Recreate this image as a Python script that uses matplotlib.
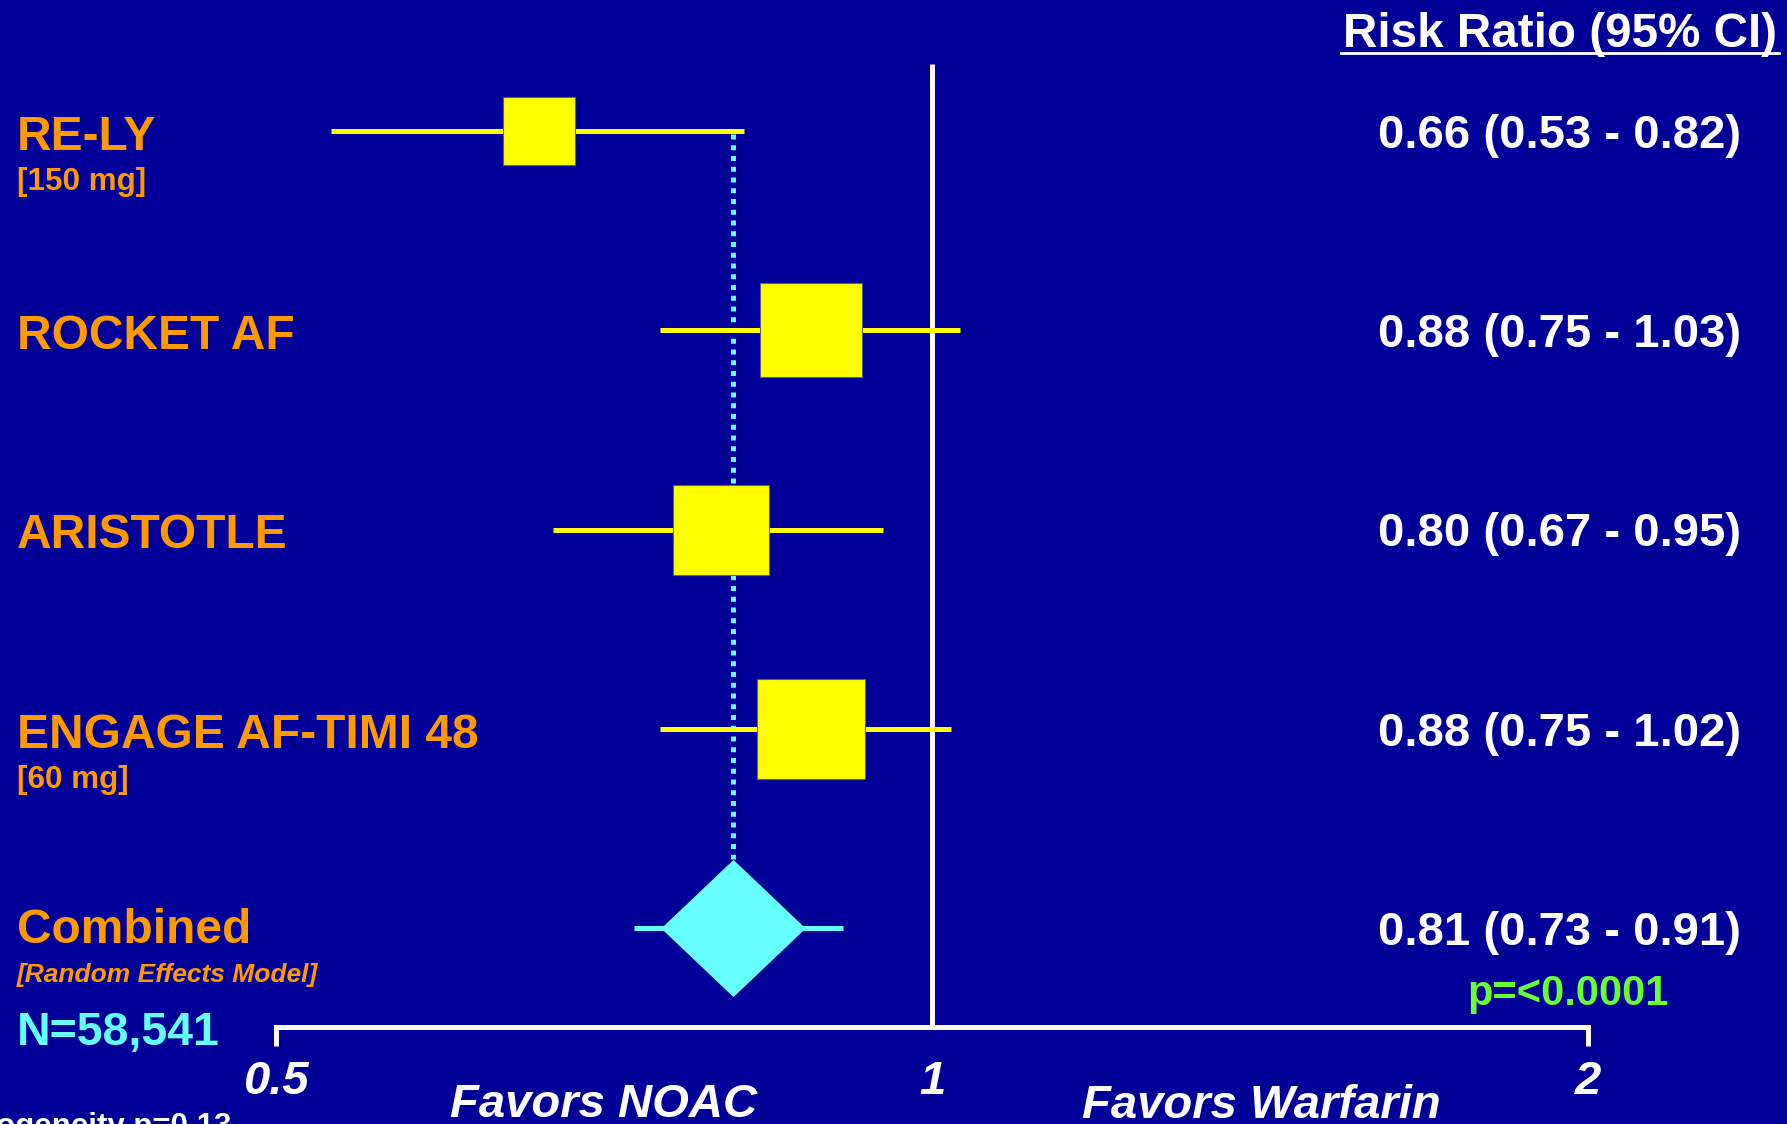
import matplotlib
matplotlib.use("Agg")
import matplotlib.pyplot as plt
from matplotlib.transforms import blended_transform_factory
from matplotlib.lines import Line2D

# ---- data ----
studies = ["RE-LY", "ROCKET AF", "ARISTOTLE", "ENGAGE AF-TIMI 48"]
doses = ["[150 mg]", "", "", "[60 mg]"]
rr = [0.66, 0.88, 0.80, 0.88]
ci_low = [0.53, 0.75, 0.67, 0.75]
ci_high = [0.82, 1.03, 0.95, 1.02]
box_sizes = [52.5, 73.5, 69.0, 77.5]          # marker width in points (study weight)

pooled_label = "Combined"
pooled_model = "[Random Effects Model]"
pooled_rr = 0.81
pooled_low = 0.73
pooled_high = 0.91
p_text = "p=<0.0001"
n_text = "N=58,541"
het_text = "Heterogeneity p=0.13"

ticks = [0.5, 1, 2]
tick_labels = ["0.5", "1", "2"]
favors_left = "Favors NOAC"
favors_right = "Favors Warfarin"
header = "Risk Ratio (95% CI)"

# ---- styling ----
BG = "#000099"
ORANGE = "#FF9900"
YELLOW = "#FFFF00"
CYAN = "#66FFFF"
GREEN = "#66FF33"
WHITE = "#FFFFFF"
FONT = "Liberation Sans"

W, H = 1787, 1124
X_ONE, PX_PER_DOUBLING = 932, 656          # pixel of RR=1 and width of one doubling
ROW0, ROW_STEP = 131, 199.25


def row_y(i):
    return ROW0 + ROW_STEP * i


fig = plt.figure(figsize=(W / 100, H / 100), dpi=100)
fig.patch.set_facecolor(BG)
ax = fig.add_axes([0, 0, 1, 1])
ax.set_facecolor(BG)
ax.set_xscale("log", base=2)
ax.set_xlim(2 ** (-X_ONE / PX_PER_DOUBLING), 2 ** ((W - X_ONE) / PX_PER_DOUBLING))
ax.set_ylim(H, 0)
ax.axis("off")

tr = blended_transform_factory(ax.transAxes, ax.transData)


def label(xpx, ypx, s, size, color=WHITE, style="normal", ha="left", **kw):
    ax.text(xpx / W, ypx, s, transform=tr, fontsize=size, color=color,
            fontfamily=FONT, fontweight="bold", fontstyle=style,
            ha=ha, va="baseline", **kw)


LW = 3.6
axis_y = 1027
tick_bottom = 1046

# line of no effect
ax.plot([1, 1], [64, axis_y], color=WHITE, lw=LW, solid_capstyle="butt", zorder=2)

# x axis bracket with end ticks
ax.plot([ticks[0], ticks[0], ticks[-1], ticks[-1]],
        [tick_bottom, axis_y, axis_y, tick_bottom],
        color=WHITE, lw=LW, solid_joinstyle="miter", solid_capstyle="butt", zorder=2)
for t, tl in zip(ticks, tick_labels):
    ax.text(t, 1094, tl, fontsize=34, color=WHITE, fontfamily=FONT,
            fontweight="bold", fontstyle="italic", ha="center", va="baseline")

# pooled estimate reference (dotted)
n = len(studies)
diamond_half_h = 69
ax.plot([pooled_rr, pooled_rr], [row_y(0) + 3, row_y(n) - diamond_half_h],
        color=CYAN, lw=LW, linestyle=(0, (1, 1.15)), dash_capstyle="butt", zorder=1)

# individual studies
box_marker = [(-1, -0.93), (1, -0.93), (1, 0.93), (-1, 0.93), (-1, -0.93)]
for i in range(n):
    y = row_y(i)
    ax.plot([ci_low[i], ci_high[i]], [y, y], color=YELLOW, lw=LW,
            solid_capstyle="butt", zorder=3)
    ax.plot(rr[i], y, marker=box_marker, markersize=box_sizes[i], color=YELLOW,
            markeredgecolor="#5c5c8c", markeredgewidth=0.8, linestyle="none", zorder=4)
    label(17, y + 19, studies[i], 34.5, ORANGE)
    if doses[i]:
        label(17, y + 59, doses[i], 22.6, ORANGE)
    label(1378, y + 17, f"{rr[i]:.2f} ({ci_low[i]:.2f} - {ci_high[i]:.2f})", 34)

# pooled estimate
yp = row_y(n)
ax.plot([pooled_low, pooled_high], [yp, yp], color=CYAN, lw=LW,
        solid_capstyle="butt", zorder=3)
diamond_marker = [(-1, 0), (0, 0.95), (1, 0), (0, -0.95), (-1, 0)]
ax.plot(pooled_rr, yp, marker=diamond_marker, markersize=104, color=CYAN,
        markeredgewidth=0, linestyle="none", zorder=4)
label(17, yp + 15, pooled_label, 34.5, ORANGE)
label(17, yp + 54, pooled_model, 19, ORANGE, style="italic")
label(1378, yp + 17, f"{pooled_rr:.2f} ({pooled_low:.2f} - {pooled_high:.2f})", 34)
label(1568, 1005, p_text, 30, GREEN, ha="center")
label(17, 1045, n_text, 33.5, CYAN)
label(231, 1135, het_text, 22.5, WHITE, ha="right")

# header with underline
label(1343, 47, header, 34.3)
fig.add_artist(Line2D([1341 / W, 1779 / W], [1 - 53 / H, 1 - 53 / H],
                      color=WHITE, lw=2.0, transform=fig.transFigure))

# favour labels
label(450, 1117, favors_left, 34, style="italic")
label(1082, 1118, favors_right, 34, style="italic")

fig.savefig("out.png", dpi=100, facecolor=BG)
